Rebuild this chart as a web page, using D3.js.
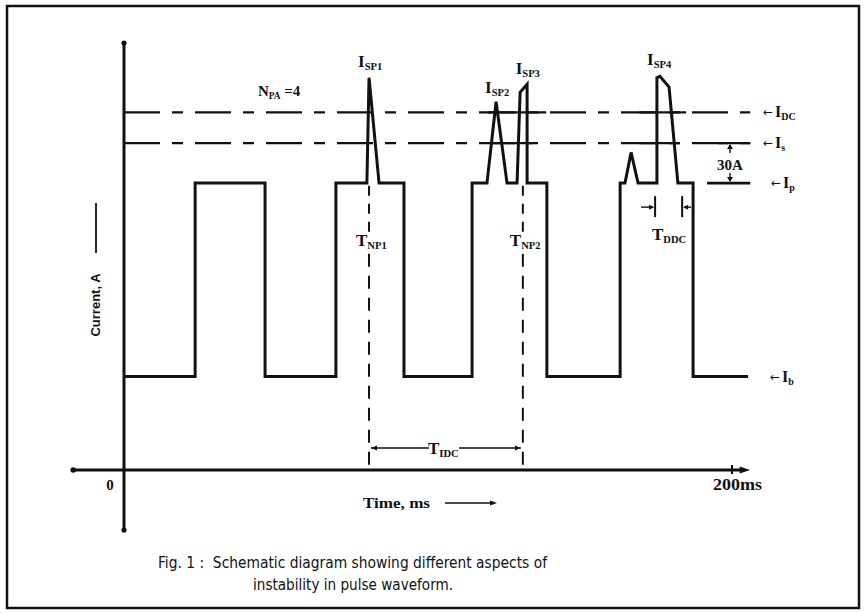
<!DOCTYPE html>
<html>
<head>
<meta charset="utf-8">
<script src="https://cdn.jsdelivr.net/npm/d3@7/dist/d3.min.js"></script>
<style>
  html, body { margin: 0; padding: 0; background: #fff; }
  svg { display: block; }
  .serif { font-family: "Liberation Serif", "Times New Roman", serif; font-weight: bold; fill: #111; }
</style>
</head>
<body>
<svg id="chart" width="865" height="613"></svg>
<script>
// Pulse waveform: time (ms) and current (A) at each corner of the trace
const waveTime    = [0, 23.4, 23.4, 46.4, 46.4, 69.7, 69.7, 79.9, 80.6, 83.9, 92.1, 92.1,
                     114.5, 114.5, 119.4, 122.4, 126.0, 129.3, 130.3, 132.6, 132.6, 139.1, 139.1,
                     163.2, 163.2, 164.8, 166.8, 169.1, 175.3, 175.3, 176.3, 179.3, 182.2, 187.2, 187.2, 205.3];
const waveCurrent = [70, 70, 215, 215, 70, 70, 215, 215, 294, 215, 215, 70,
                     70, 215, 215, 276, 215, 215, 283, 289, 215, 215, 70,
                     70, 215, 215, 238, 215, 215, 294, 295, 287, 215, 215, 70, 70];

// Reference current levels (A)
const levelNames  = ["DC", "s", "p", "b"];
const levelValues = [268, 245, 215, 70];

// Spike peaks and their labels
const spikeLabels = ["SP1", "SP2", "SP3", "SP4"];
const spikeTime   = [80.6, 122.4, 131.8, 176.0];
const spikeValue  = [294, 276, 289, 295];

// Spike onset marks (dashed verticals) and the interval between them
const markerLabels = ["NP1", "NP2"];
const markerTime   = [80.6, 131.2];

// Solid stretches of the threshold lines where the spikes cross them: [start, end]
const crossIdc = [[119.6, 138.9], [169.5, 184.9]];
const crossIs  = [[120.6, 134.4], [169.5, 182.9]];

// Axis tick labels
const tickTimes  = [0, 200];
const tickLabels = ["0", "200ms"];

const svg = d3.select("#chart");
const x = d3.scaleLinear().domain([0, 200]).range([124, 732]);
const y = d3.scaleLinear().domain([0, 320]).range([470, 43]);

// Outer frame
svg.append("rect").attr("x", 7).attr("y", 6).attr("width", 852).attr("height", 602)
  .attr("fill", "none").attr("stroke", "#111").attr("stroke-width", 2.5);

// Threshold lines (long-short dashes)
const dash = "36,12,11,12";
[levelValues[0], levelValues[1]].forEach(v => {
  svg.append("line").attr("x1", x(0)).attr("x2", x(206))
    .attr("y1", y(v)).attr("y2", y(v))
    .attr("stroke", "#111").attr("stroke-width", 2.2).attr("stroke-dasharray", dash);
});
crossIdc.forEach(d => svg.append("line").attr("x1", x(d[0])).attr("x2", x(d[1]))
  .attr("y1", y(levelValues[0])).attr("y2", y(levelValues[0])).attr("stroke", "#111").attr("stroke-width", 2.2));
crossIs.forEach(d => svg.append("line").attr("x1", x(d[0])).attr("x2", x(d[1]))
  .attr("y1", y(levelValues[1])).attr("y2", y(levelValues[1])).attr("stroke", "#111").attr("stroke-width", 2.2));
// Is dash reaching the 30 A bracket, and short Ip reference line
svg.append("line").attr("x1", x(195.5)).attr("x2", x(206))
  .attr("y1", y(levelValues[1])).attr("y2", y(levelValues[1])).attr("stroke", "#111").attr("stroke-width", 2.2);
svg.append("line").attr("x1", x(191.8)).attr("x2", x(206))
  .attr("y1", y(levelValues[2])).attr("y2", y(levelValues[2])).attr("stroke", "#111").attr("stroke-width", 2.6);

// Dashed verticals at spike onsets
markerTime.forEach(t => {
  svg.append("line").attr("x1", x(t)).attr("x2", x(t))
    .attr("y1", y(213)).attr("y2", y(178))
    .attr("stroke", "#111").attr("stroke-width", 2).attr("stroke-dasharray", "10,8");
  svg.append("line").attr("x1", x(t)).attr("x2", x(t))
    .attr("y1", y(162)).attr("y2", y(0))
    .attr("stroke", "#111").attr("stroke-width", 2).attr("stroke-dasharray", "13,9");
});

// Waveform trace
const line = d3.line().x((d, i) => x(waveTime[i])).y(d => y(d)).curve(d3.curveLinear);
svg.append("path").datum(waveCurrent).attr("d", line)
  .attr("fill", "none").attr("stroke", "#111").attr("stroke-width", 3)
  .attr("stroke-linejoin", "miter");

// Axes
svg.append("line").attr("x1", x(0)).attr("x2", x(0)).attr("y1", y(320)).attr("y2", y(-45))
  .attr("stroke", "#111").attr("stroke-width", 3);
svg.append("circle").attr("cx", x(0)).attr("cy", y(320)).attr("r", 2.6).attr("fill", "#111");
svg.append("circle").attr("cx", x(0)).attr("cy", y(-45)).attr("r", 2.6).attr("fill", "#111");
svg.append("line").attr("x1", x(-16.7)).attr("x2", x(203.5)).attr("y1", y(0)).attr("y2", y(0))
  .attr("stroke", "#111").attr("stroke-width", 3);
svg.append("circle").attr("cx", x(-16.7)).attr("cy", y(0)).attr("r", 2.8).attr("fill", "#111");
svg.append("path")
  .attr("d", `M${x(206)},${y(0)} L${x(202.5)},${y(0) - 3.5} L${x(202.5)},${y(0) + 3.5} Z`)
  .attr("fill", "#111");
svg.append("line").attr("x1", x(200)).attr("x2", x(200)).attr("y1", y(0) - 5).attr("y2", y(0) + 4)
  .attr("stroke", "#111").attr("stroke-width", 2);

// Tick labels
svg.append("text").attr("class", "serif").attr("x", x(tickTimes[0]) - 14).attr("y", 490)
  .attr("text-anchor", "middle").attr("font-size", 15).text(tickLabels[0]);
svg.append("text").attr("class", "serif").attr("x", x(tickTimes[1]) - 19).attr("y", 490)
  .attr("font-size", 16).attr("textLength", 49).attr("lengthAdjust", "spacingAndGlyphs")
  .text(tickLabels[1]);

// Axis titles
svg.append("text").attr("class", "serif").attr("x", 363).attr("y", 508)
  .attr("font-size", 15).attr("textLength", 67).attr("lengthAdjust", "spacingAndGlyphs")
  .text("Time, ms");
svg.append("line").attr("x1", 445).attr("x2", 492).attr("y1", 503).attr("y2", 503)
  .attr("stroke", "#111").attr("stroke-width", 1.5);
svg.append("path").attr("d", "M497,503 L490,500.5 L490,505.5 Z").attr("fill", "#111");

svg.append("text")
  .attr("transform", "translate(100,305) rotate(-90)")
  .attr("text-anchor", "middle")
  .attr("font-family", "'Liberation Sans', Arial, sans-serif").attr("font-weight", "bold")
  .attr("font-size", 13).attr("fill", "#111").text("Current, A");
svg.append("line").attr("x1", 96).attr("x2", 96).attr("y1", 203).attr("y2", 253)
  .attr("stroke", "#111").attr("stroke-width", 1.8);

// Subscripted serif label helper
function subLabel(xp, yp, main, sub, size, anchor) {
  const t = svg.append("text").attr("class", "serif").attr("x", xp).attr("y", yp)
    .attr("font-size", size).attr("text-anchor", anchor || "start");
  t.append("tspan").text(main);
  t.append("tspan").attr("font-size", size * 0.62).attr("dy", size * 0.18).text(sub);
  return t;
}

// Spike labels
const spikeOffsets = [[-11, -11], [-11, -9], [-9, -10], [-12, -11]];
spikeLabels.forEach((s, i) => {
  subLabel(x(spikeTime[i]) + spikeOffsets[i][0], y(spikeValue[i]) + spikeOffsets[i][1], "I", s, 17);
});

// Onset labels
markerLabels.forEach((s, i) => {
  subLabel(x(markerTime[i]) - 13, 246, "T", s, 17);
});

// Pulse-count annotation
subLabel(258, 96, "N", "PA", 15).append("tspan").attr("dy", -2.7).attr("font-size", 15).text(" =4");

// Level labels on the right
const levelLabelX = [763, 763, 771, 770];
levelNames.forEach((n, i) => {
  const t = svg.append("text").attr("class", "serif").attr("x", levelLabelX[i]).attr("y", y(levelValues[i]) + 5)
    .attr("font-size", 16);
  t.append("tspan").attr("font-family", "'DejaVu Sans', sans-serif").attr("font-weight", "normal")
    .attr("font-size", 12).attr("dy", -1).text("\u2190");
  t.append("tspan").attr("dy", 1).attr("dx", 2).text("I");
  t.append("tspan").attr("font-size", 10).attr("dy", 3).text(n);
});

// 30 A bracket between Is and Ip
const bx = 730;
svg.append("line").attr("x1", bx).attr("x2", bx).attr("y1", y(levelValues[1]) + 2).attr("y2", y(levelValues[1]) + 10)
  .attr("stroke", "#111").attr("stroke-width", 1.4);
svg.append("line").attr("x1", bx).attr("x2", bx).attr("y1", y(levelValues[2]) - 10).attr("y2", y(levelValues[2]) - 2)
  .attr("stroke", "#111").attr("stroke-width", 1.4);
svg.append("path").attr("d", `M${bx},${y(levelValues[1]) + 1} l-3,5 l6,0 Z`).attr("fill", "#111");
svg.append("path").attr("d", `M${bx},${y(levelValues[2]) - 1} l-3,-5 l6,0 Z`).attr("fill", "#111");
svg.append("text").attr("class", "serif").attr("x", bx).attr("y", y(levelValues[1]) + 27)
  .attr("text-anchor", "middle").attr("font-size", 15).text("30A");

// Interval between the onset marks
const ty = y(16.5);
svg.append("line").attr("x1", x(markerTime[0]) + 2).attr("x2", 429).attr("y1", ty).attr("y2", ty)
  .attr("stroke", "#111").attr("stroke-width", 1.4);
svg.append("line").attr("x1", 459).attr("x2", x(markerTime[1]) - 2).attr("y1", ty).attr("y2", ty)
  .attr("stroke", "#111").attr("stroke-width", 1.4);
svg.append("path").attr("d", `M${x(markerTime[0]) + 2},${ty} l6,-2.5 l0,5 Z`).attr("fill", "#111");
svg.append("path").attr("d", `M${x(markerTime[1]) - 2},${ty} l-6,-2.5 l0,5 Z`).attr("fill", "#111");
subLabel(428, ty + 6, "T", "IDC", 17);

// Duration of the disturbed stretch
const dy = y(197);
const d0 = x(174.7), d1 = x(183.6);
svg.append("line").attr("x1", d0).attr("x2", d0).attr("y1", dy - 11).attr("y2", dy + 10)
  .attr("stroke", "#111").attr("stroke-width", 2);
svg.append("line").attr("x1", d1).attr("x2", d1).attr("y1", dy - 11).attr("y2", dy + 10)
  .attr("stroke", "#111").attr("stroke-width", 2);
svg.append("line").attr("x1", d0 - 14).attr("x2", d0 - 2).attr("y1", dy).attr("y2", dy)
  .attr("stroke", "#111").attr("stroke-width", 1.4);
svg.append("path").attr("d", `M${d0 - 1},${dy} l-5,-2.5 l0,5 Z`).attr("fill", "#111");
svg.append("line").attr("x1", d1 + 2).attr("x2", d1 + 9).attr("y1", dy).attr("y2", dy)
  .attr("stroke", "#111").attr("stroke-width", 1.4);
svg.append("path").attr("d", `M${d1 + 1},${dy} l5,-2.5 l0,5 Z`).attr("fill", "#111");
subLabel(652, 240, "T", "DDC", 17);

// Caption
const cap = svg.append("g")
  .attr("font-family", "'DejaVu Sans Condensed', 'DejaVu Sans', sans-serif")
  .attr("font-size", 16).attr("fill", "#111");
cap.append("text").attr("x", 158).attr("y", 568)
  .attr("textLength", 389).attr("lengthAdjust", "spacingAndGlyphs")
  .text("Fig. 1 :\u00a0 Schematic diagram showing different aspects of");
cap.append("text").attr("x", 253).attr("y", 590)
  .attr("textLength", 200).attr("lengthAdjust", "spacingAndGlyphs")
  .text("instability in pulse waveform.");
</script>
</body>
</html>
